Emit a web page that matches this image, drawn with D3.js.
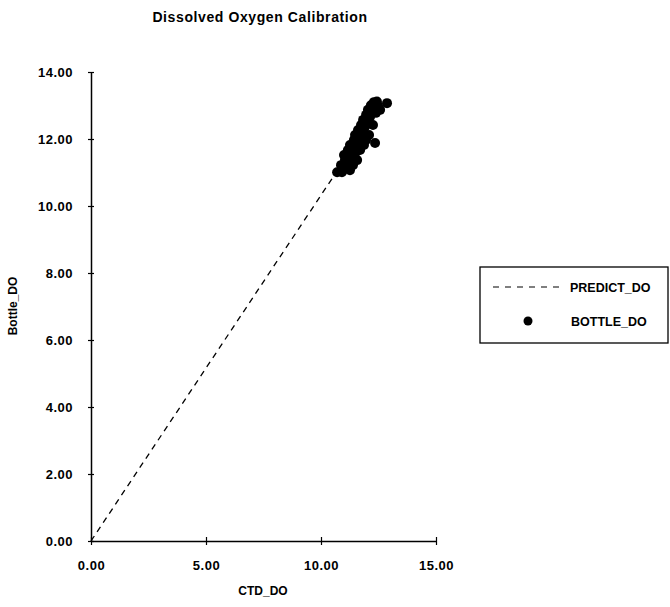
<!DOCTYPE html>
<html><head><meta charset="utf-8">
<script src="https://cdn.jsdelivr.net/npm/d3@7"></script>
<style>
body{margin:0;background:#fff;}
text{font-family:"Liberation Sans",Arial,sans-serif;font-weight:bold;fill:#000;}
</style></head>
<body><svg id="c" width="670" height="607"></svg>
<script>
const title = "Dissolved Oxygen Calibration";
const xLabel = "CTD_DO";
const yLabel = "Bottle_DO";
const xTicks = [0, 5, 10, 15];
const yTicks = [0, 2, 4, 6, 8, 10, 12, 14];
const seriesNames = ["PREDICT_DO", "BOTTLE_DO"];
// PREDICT_DO line
const predictX = [0, 12.4];
const predictY = [0, 12.8];
// BOTTLE_DO points
const ctdDO = [10.70,10.91,11.09,11.26,10.87,11.04,11.22,11.35,11.00,11.17,11.35,11.52,11.26,11.43,11.61,11.48,11.70,11.61,11.78,11.74,11.91,11.83,12.00,11.96,12.13,12.04,12.22,12.17,12.35,12.30,12.43,12.48,12.39,12.26,12.09,11.87,11.70,12.35,12.87,12.57,11.96,11.57,11.39];
const bottleDO = [11.01,11.01,11.13,11.07,11.22,11.37,11.31,11.46,11.52,11.67,11.73,11.61,11.82,11.97,11.88,12.12,12.06,12.27,12.21,12.42,12.36,12.57,12.51,12.72,12.66,12.87,12.81,13.01,12.96,13.10,13.12,12.99,12.78,12.42,12.12,11.82,11.67,11.88,13.07,12.87,11.97,11.37,11.22];

const svg = d3.select("#c");
const x = d3.scaleLinear().domain([0, 15]).range([91, 436]);
const y = d3.scaleLinear().domain([0, 14]).range([541, 72]);

svg.append("text").attr("x", 260).attr("y", 22).attr("text-anchor", "middle")
  .style("font-size", "14px").style("letter-spacing", "0.6px").text(title);

// axes
const xAxis = d3.axisBottom(x).tickValues(xTicks).tickFormat(d3.format(".2f")).tickSizeInner(0).tickSizeOuter(0).tickPadding(20);
const gx = svg.append("g").attr("transform", "translate(0,541)").call(xAxis);
const yAxis = d3.axisLeft(y).tickValues(yTicks).tickFormat(d3.format(".2f")).tickSizeInner(0).tickSizeOuter(0).tickPadding(18);
const gy = svg.append("g").attr("transform", "translate(91,0)").call(yAxis);
[gx, gy].forEach(g => {
  g.select(".domain").attr("stroke", "#000").attr("stroke-width", 1.5);
  g.selectAll(".tick text").style("font-size", "13px").style("font-family", "Liberation Sans, Arial, sans-serif").style("font-weight", "bold").style("letter-spacing", "0.5px").attr("fill", "#000");
});
// cross ticks
gx.selectAll(".tick").append("line").attr("y1", -4).attr("y2", 4).attr("stroke", "#000").attr("stroke-width", 1.2);
gy.selectAll(".tick").append("line").attr("x1", -3).attr("x2", 3).attr("stroke", "#000").attr("stroke-width", 1.2);

svg.append("text").attr("x", 263).attr("y", 595).attr("text-anchor", "middle")
  .style("font-size", "12px").text(xLabel);
svg.append("text").attr("transform", "translate(17,306) rotate(-90)").attr("text-anchor", "middle")
  .style("font-size", "12px").text(yLabel);

// predict line
const pts = predictX.map((v, i) => [v, predictY[i]]);
svg.append("path").datum(pts)
  .attr("d", d3.line().x(d => x(d[0])).y(d => y(d[1])))
  .attr("fill", "none").attr("stroke", "#000").attr("stroke-width", 1.3).attr("stroke-dasharray", "6,5");

// bottle points
svg.append("g").selectAll("circle").data(ctdDO.map((v, i) => [v, bottleDO[i]])).join("circle")
  .attr("cx", d => x(d[0])).attr("cy", d => y(d[1])).attr("r", 5).attr("fill", "#000");

// legend
const lg = svg.append("g");
lg.append("rect").attr("x", 480).attr("y", 267).attr("width", 188).attr("height", 76)
  .attr("fill", "none").attr("stroke", "#000").attr("stroke-width", 1.3);
lg.append("line").attr("x1", 493).attr("x2", 565).attr("y1", 287).attr("y2", 287)
  .attr("stroke", "#000").attr("stroke-width", 1.2).attr("stroke-dasharray", "6,6");
lg.append("text").attr("x", 570).attr("y", 292).style("font-size", "12.5px").text(seriesNames[0]);
lg.append("circle").attr("cx", 528).attr("cy", 321).attr("r", 4.5).attr("fill", "#000");
lg.append("text").attr("x", 571).attr("y", 326).style("font-size", "12.5px").text(seriesNames[1]);
</script></body></html>
